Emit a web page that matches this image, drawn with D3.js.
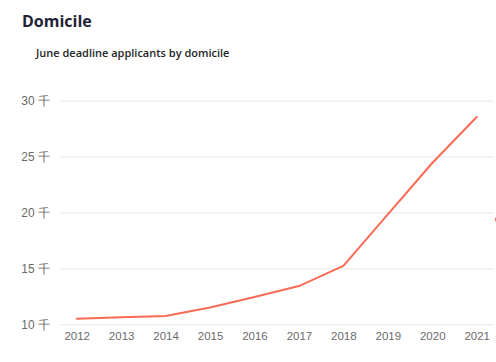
<!DOCTYPE html>
<html><head><meta charset="utf-8">
<script src="https://cdn.jsdelivr.net/npm/d3@7"></script>
<style>
html,body{margin:0;padding:0;background:#fff;}
svg{display:block;font-family:"Open Sans","Noto Sans",sans-serif;}
</style></head>
<body>
<svg id="chart" width="496" height="362"></svg>
<script>
const years = [2012, 2013, 2014, 2015, 2016, 2017, 2018, 2019, 2020, 2021];
const applicants = [10.5, 10.63, 10.74, 11.5, 12.44, 13.42, 15.23, 19.84, 24.43, 28.54];
const yTicks = [10, 15, 20, 25, 30];
const title = "Domicile";
const subtitle = "June deadline applicants by domicile";
const unitSuffix = " 千";

const svg = d3.select("#chart");
const x = d3.scaleLinear().domain([2012, 2021]).range([76.7, 476.7]);
const y = d3.scaleLinear().domain([10, 30]).range([324.3, 100.7]);

svg.append("text").attr("x", 22).attr("y", 27)
  .attr("font-size", 16).attr("font-weight", 700).attr("fill", "#1e2433").text(title);
svg.append("text").attr("x", 36).attr("y", 57)
  .attr("font-size", 11).attr("font-weight", 600).attr("fill", "#252525").text(subtitle);

// grid
const yAxis = d3.axisLeft(y).tickValues(yTicks).tickSize(-(494 - 60)).tickPadding(10)
  .tickFormat(d => d + unitSuffix);
const gy = svg.append("g").attr("transform", "translate(60,0)").call(yAxis);
gy.select(".domain").remove();
gy.selectAll(".tick line").attr("stroke", "#efefef").attr("stroke-width", 1.5);
gy.selectAll(".tick text").attr("fill", "#6b6b6b").attr("font-size", 12)
  .attr("x", -10).attr("dy", "0.35em");

const xAxis = d3.axisBottom(x).tickValues(years).tickFormat(d3.format("d")).tickSize(0).tickPadding(8);
const gx = svg.append("g").attr("transform", "translate(0,324.3)").call(xAxis);
gx.select(".domain").remove();
gx.selectAll(".tick text").attr("fill", "#6b6b6b").attr("font-size", 11.5);

const line = d3.line().x((d, i) => x(years[i])).y(d => y(d));
svg.append("path").datum(applicants).attr("d", line)
  .attr("fill", "none").attr("stroke", "#fa6b55").attr("stroke-width", 2)
  .attr("stroke-linejoin", "round").attr("stroke-linecap", "round");

// partially visible marker at the right edge
svg.append("circle").attr("cx", 498).attr("cy", 219.5).attr("r", 3).attr("fill", "#fa6b55");
</script>
</body></html>
